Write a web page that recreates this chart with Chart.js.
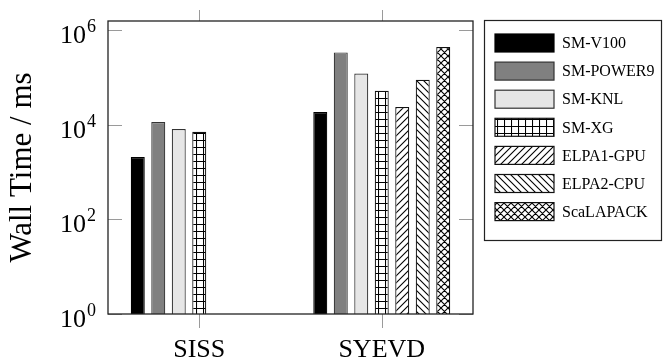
<!DOCTYPE html>
<html>
<head>
<meta charset="utf-8">
<script src="https://cdn.jsdelivr.net/npm/chart.js@4.4.1/dist/chart.umd.min.js"></script>
<style>
  html, body { margin: 0; padding: 0; background: #fff; }
  #wrap { width: 665px; height: 364px; }
</style>
</head>
<body>
<div id="wrap"><canvas id="plot"></canvas></div>
<script>
// datos (ms, escala log)
const categories = ['SISS', 'SYEVD'];
const seriesNames = ['SM-V100', 'SM-POWER9', 'SM-KNL', 'SM-XG', 'ELPA1-GPU', 'ELPA2-CPU', 'ScaLAPACK'];
const smV100 = [2085, 18650];
const smPower9 = [11460, 340000];
const smKnl = [8150, 122000];
const smXg = [7150, 52600];
const elpa1Gpu = [null, 23800];
const elpa2Cpu = [null, 89800];
const scalapack = [null, 441000];
const yTicks = [1, 100, 10000, 1000000];

const FONT = '"Liberation Serif", "DejaVu Serif", serif';

// patrones de relleno
let makePattern = (kind) => {
  let size = 7;
  let c = document.createElement('canvas');
  c.width = size; c.height = size;
  let g = c.getContext('2d');
  g.fillStyle = '#fff';
  g.fillRect(0, 0, size, size);
  g.strokeStyle = '#000';
  g.lineWidth = 1.1;
  g.beginPath();
  if (kind === 'grid') {
    g.moveTo(0.5, 0); g.lineTo(0.5, size);
    g.moveTo(0, 0.5); g.lineTo(size, 0.5);
  }
  if (kind === 'ne' || kind === 'cross') {
    g.moveTo(-1, size + 1); g.lineTo(size + 1, -1);
    g.moveTo(-1, 1); g.lineTo(1, -1);
    g.moveTo(size - 1, size + 1); g.lineTo(size + 1, size - 1);
  }
  if (kind === 'nw' || kind === 'cross') {
    g.moveTo(-1, -1); g.lineTo(size + 1, size + 1);
    g.moveTo(size - 1, -1); g.lineTo(size + 1, 1);
    g.moveTo(-1, size - 1); g.lineTo(1, size + 1);
  }
  g.stroke();
  return g.createPattern(c, 'repeat');
};

let seriesData = [smV100, smPower9, smKnl, smXg, elpa1Gpu, elpa2Cpu, scalapack];
let fills = ['#000000', '#808080', '#e6e6e6', makePattern('grid'), makePattern('ne'), makePattern('nw'), makePattern('cross')];
let borders = ['#000000', '#333333', '#333333', '#111111', '#111111', '#111111', '#111111'];

let datasets = seriesNames.map((name, i) => ({
  label: name,
  data: seriesData[i],
  backgroundColor: fills[i],
  borderColor: borders[i],
  borderWidth: 1.2,
  borderSkipped: 'start',
  categoryPercentage: 0.786,
  barPercentage: 0.683,
}));

// marco, ticks, etiquetas y leyenda a mano
let framePlugin = {
  id: 'frame',
  afterDraw: (chart) => {
    let ctx = chart.ctx;
    let a = chart.chartArea;
    let xs = chart.scales.x;
    let ys = chart.scales.y;
    ctx.save();

    // ticks
    ctx.strokeStyle = '#9a9a9a';
    ctx.lineWidth = 1;
    ctx.beginPath();
    yTicks.forEach(v => {
      let y = Math.round(ys.getPixelForValue(v)) + 0.5;
      ctx.moveTo(a.left, y); ctx.lineTo(a.left + 14, y);
      ctx.moveTo(a.right - 14, y); ctx.lineTo(a.right, y);
    });
    categories.forEach((c, i) => {
      let x = Math.round(xs.getPixelForValue(i)) + 0.5;
      ctx.moveTo(x, a.top - 11); ctx.lineTo(x, a.top);
      ctx.moveTo(x, a.bottom); ctx.lineTo(x, a.bottom + 14);
    });
    ctx.stroke();

    // marco
    ctx.strokeStyle = '#222';
    ctx.lineWidth = 1.3;
    ctx.strokeRect(a.left, a.top, a.right - a.left, a.bottom - a.top);

    // etiquetas del eje y: 10^n
    ctx.fillStyle = '#000';
    ctx.textBaseline = 'alphabetic';
    ctx.textAlign = 'left';
    yTicks.forEach(v => {
      let y = ys.getPixelForValue(v);
      let exp = String(Math.round(Math.log10(v)));
      ctx.font = '26px ' + FONT;
      let w1 = ctx.measureText('10').width;
      ctx.font = '18px ' + FONT;
      let w2 = ctx.measureText(exp).width;
      let xEnd = 96;
      ctx.font = '26px ' + FONT;
      ctx.fillText('10', xEnd - w2 - w1 - 1, y + 13);
      ctx.font = '18px ' + FONT;
      ctx.fillText(exp, xEnd - w2, y + 2);
    });

    // leyenda
    let lx = 484, ly = 20, lw = 177, lh = 220;
    ctx.fillStyle = '#fff';
    ctx.fillRect(lx, ly, lw, lh);
    ctx.strokeStyle = '#222';
    ctx.lineWidth = 1.2;
    ctx.strokeRect(lx + 0.5, ly + 0.5, lw, lh);
    ctx.font = '16px ' + FONT;
    ctx.textBaseline = 'middle';
    chart.data.datasets.forEach((ds, i) => {
      let cy = 43 + i * 28.1;
      ctx.fillStyle = ds.backgroundColor;
      ctx.fillRect(495, cy - 9, 59, 18);
      ctx.strokeStyle = ds.borderColor;
      ctx.lineWidth = 1.2;
      ctx.strokeRect(495, cy - 9, 59, 18);
      ctx.fillStyle = '#000';
      ctx.fillText(ds.label, 562, cy + 1);
    });
    ctx.restore();
  }
};

let config = {
  type: 'bar',
  data: { labels: categories, datasets: datasets },
  options: {
    responsive: true,
    maintainAspectRatio: false,
    animation: false,
    layout: { padding: { left: 0, top: 21, right: 192, bottom: 0 } },
    plugins: {
      legend: { display: false },
      tooltip: { enabled: false },
    },
    scales: {
      x: {
        grid: { display: false },
        border: { display: false },
        ticks: { color: '#000', font: { family: FONT, size: 26 }, padding: 13 },
        afterFit: (scale) => { scale.height = 50; },
      },
      y: {
        type: 'logarithmic',
        min: 1,
        max: 1.57e6,
        grid: { display: false },
        border: { display: false },
        ticks: { display: false },
        title: {
          display: true,
          text: 'Wall Time / ms',
          color: '#000',
          font: { family: FONT, size: 31 },
          padding: { top: 4, bottom: 0 },
        },
        afterFit: (scale) => { scale.width = 108; },
      },
    },
  },
  plugins: [framePlugin],
};

new Chart(document.getElementById('plot'), config);
</script>
</body>
</html>
